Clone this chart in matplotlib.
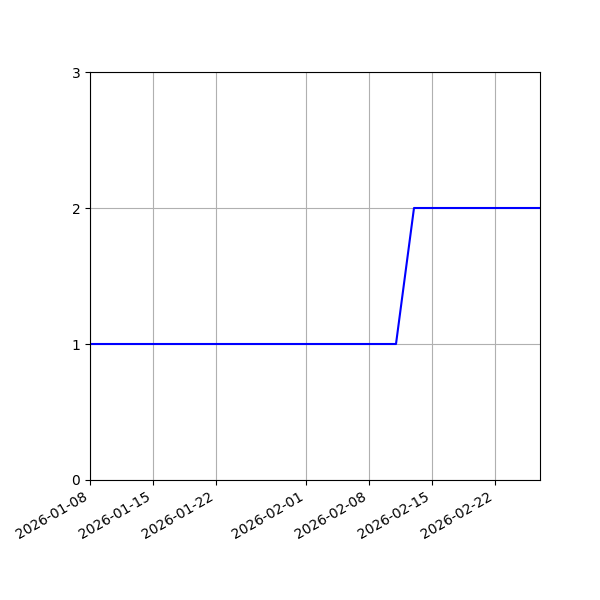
import pandas as pd
import matplotlib
matplotlib.use("Agg")
import matplotlib.pyplot as plt

# values
dates = pd.to_datetime(["2026-01-08", "2026-02-11", "2026-02-13", "2026-02-27"])
counts = [1, 1, 2, 2]
yticks = [0, 1, 2, 3]

fig, ax = plt.subplots(figsize=(6, 6), dpi=100)
ax.plot(dates, counts, color="blue")
ax.set_xlim(dates[0], dates[-1])
ax.set_ylim(0, 3)
ax.set_yticks(yticks)
ax.grid(True)

fig.autofmt_xdate()
fig.subplots_adjust(left=0.15)
plt.savefig("out.png", dpi=100)
